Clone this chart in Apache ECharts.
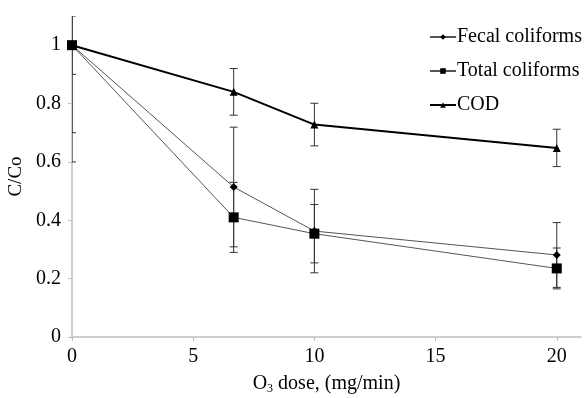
<!DOCTYPE html>
<html>
<head>
<meta charset="utf-8">
<script src="https://cdn.jsdelivr.net/npm/echarts@6/dist/echarts.min.js"></script>
<style>
  html, body { margin: 0; padding: 0; background: #fff; }
  #chart { width: 585px; height: 398px; }
</style>
</head>
<body>
<div id="chart"></div>
<script>
// ozone dose (mg/min)
var doses = [0, 6.67, 10, 20];
var xTicks = [0, 5, 10, 15, 20];
var yTicks = [0, 0.2, 0.4, 0.6, 0.8, 1];

// C/Co values
var fecal = [1, 0.514, 0.363, 0.281];
var total = [1, 0.41, 0.354, 0.235];
var cod = [1, 0.84, 0.728, 0.648];

// +/- error
var fecalErr = [0.3, 0.205, 0.143, 0.111];
var totalErr = [0.4, 0.12, 0.1, 0.07];
var codErr = [0.1, 0.08, 0.073, 0.064];

var font = 'Liberation Serif';
var axisGray = '#bfbfbf';

function pairs(ys) {
  return doses.map(function (x, i) { return [x, ys[i]]; });
}

function errData(ys, es) {
  return doses.map(function (x, i) { return [x, ys[i] - es[i], ys[i] + es[i]]; });
}

function renderErr(params, api) {
  var x = api.value(0);
  var lo = api.coord([x, api.value(1)]);
  var hi = api.coord([x, api.value(2)]);
  var w = 4;
  var st = { stroke: '#333', lineWidth: 1 };
  return {
    type: 'group',
    children: [
      { type: 'line', shape: { x1: lo[0], y1: lo[1], x2: hi[0], y2: hi[1] }, style: st },
      { type: 'line', shape: { x1: lo[0] - w, y1: lo[1], x2: lo[0] + w, y2: lo[1] }, style: st },
      { type: 'line', shape: { x1: hi[0] - w, y1: hi[1], x2: hi[0] + w, y2: hi[1] }, style: st }
    ]
  };
}

function errSeries(ys, es) {
  return {
    type: 'custom',
    renderItem: renderErr,
    data: errData(ys, es),
    clip: true,
    silent: true,
    z: 1,
    encode: { x: 0, y: [1, 2] }
  };
}

var chart = echarts.init(document.getElementById('chart'));

var option = {
  animation: false,
  backgroundColor: '#fff',
  textStyle: { fontFamily: font },
  grid: { left: 72, right: 4, top: 16, bottom: 61, containLabel: false, outerBoundsMode: 'none' },
  legend: {
    orient: 'vertical',
    left: 424,
    top: 22,
    itemWidth: 26,
    itemHeight: 7,
    itemGap: 14,
    textStyle: { fontFamily: font, fontSize: 20, color: '#000', padding: [0, 0, 0, -4] },
    data: ['Fecal coliforms', 'Total coliforms', 'COD']
  },
  xAxis: {
    type: 'value',
    min: 0,
    max: 21,
    interval: 5,
    splitLine: { show: false },
    axisLine: { lineStyle: { color: axisGray, width: 1.5 } },
    axisTick: { show: true, length: 4, customValues: xTicks, lineStyle: { color: axisGray } },
    axisLabel: { customValues: xTicks, fontFamily: font, fontSize: 20, color: '#000', margin: 10 },
    name: '{a|O}{s|3}{a| dose, (mg/min)}',
    nameLocation: 'middle',
    nameGap: 36,
    nameTextStyle: {
      rich: {
        a: { fontFamily: font, fontSize: 20, color: '#000' },
        s: { fontFamily: font, fontSize: 12, color: '#000', verticalAlign: 'bottom', padding: [10, 0, 0, 0] }
      }
    }
  },
  yAxis: {
    type: 'value',
    min: 0,
    max: 1.1,
    interval: 0.2,
    splitLine: { show: false },
    axisLine: { show: true, lineStyle: { color: axisGray, width: 1.5 } },
    axisTick: { show: true, length: 4, customValues: yTicks, lineStyle: { color: axisGray } },
    axisLabel: { customValues: yTicks, fontFamily: font, fontSize: 20, color: '#000', margin: 11 },
    name: 'C/Co',
    nameLocation: 'middle',
    nameGap: 41,
    nameTextStyle: { fontFamily: font, fontSize: 19, color: '#000' }
  },
  series: [
    errSeries(fecal, fecalErr),
    errSeries(total, totalErr),
    errSeries(cod, codErr),
    {
      name: 'Fecal coliforms',
      type: 'line',
      data: pairs(fecal),
      symbol: 'diamond',
      symbolSize: 8,
      itemStyle: { color: '#000' },
      lineStyle: { color: '#555', width: 1 },
      z: 3
    },
    {
      name: 'Total coliforms',
      type: 'line',
      data: pairs(total),
      symbol: 'rect',
      symbolSize: 10,
      itemStyle: { color: '#000' },
      lineStyle: { color: '#555', width: 1 },
      z: 3
    },
    {
      name: 'COD',
      type: 'line',
      data: pairs(cod),
      symbol: 'triangle',
      symbolSize: 8,
      itemStyle: { color: '#000' },
      lineStyle: { color: '#000', width: 2 },
      z: 4
    }
  ]
};

chart.setOption(option);
</script>
</body>
</html>
